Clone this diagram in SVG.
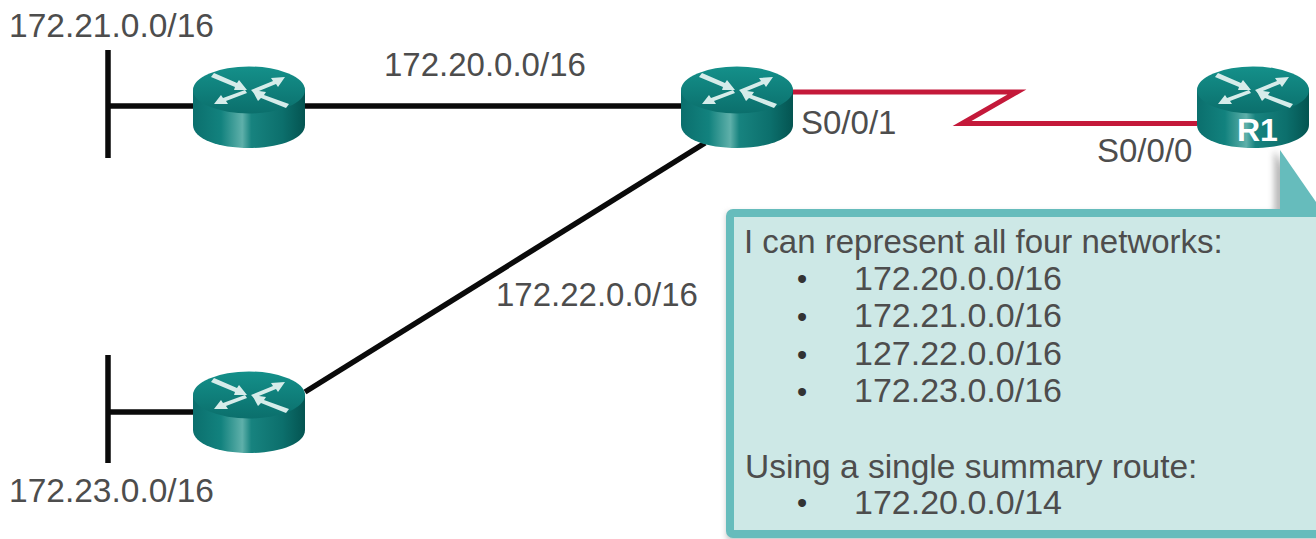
<svg xmlns="http://www.w3.org/2000/svg" width="1316" height="539" viewBox="0 0 1316 539">
<style>
text{font-family:"Liberation Sans",Arial,sans-serif;font-size:33px;fill:#4d4d4d}
.net{font-size:33.5px}
.li{font-size:34px}
.bul{font-size:29px;fill:#333}
.blk{stroke:#0a0a0a;stroke-width:5.5;fill:none}
.red{stroke:#c4193a;stroke-width:5;fill:none;stroke-miterlimit:12}
.lbl{font-weight:700;fill:#fff;font-size:32px}
</style>
<defs>
<linearGradient id="body" x1="0" x2="1" y1="0" y2="0">
<stop offset="0" stop-color="#0b6f6d"/><stop offset=".25" stop-color="#12827e"/><stop offset=".44" stop-color="#5fb0aa"/><stop offset=".52" stop-color="#17837f"/><stop offset=".8" stop-color="#0c6f6c"/><stop offset="1" stop-color="#045451"/>
</linearGradient>
<linearGradient id="top" x1="0" x2="0" y1="0" y2="1">
<stop offset="0" stop-color="#14908a"/><stop offset="1" stop-color="#0b6f6c"/>
</linearGradient>
<filter id="blur" x="-5%" y="-5%" width="110%" height="110%"><feGaussianBlur stdDeviation="3"/></filter>
<g id="router">
<path d="M-56 -15V20C-56 34 -30 43 0 43S56 34 56 20V-15Z" fill="url(#body)"/>
<ellipse cx="0" cy="-15" rx="56" ry="23.5" fill="url(#top)"/>
<g fill="#d6ecea">
<path d="M-38 -28L-35 -32L-12 -22L-10 -25L-2 -15L-15 -15L-14 -18Z"/>
<path d="M2 -15L24 -24L22 -27L36 -28L29 -18L27 -21L5 -12Z"/>
<path d="M-4 -15L-2 -12L-23 -4L-21 -1L-35 -1L-28 -10L-26 -7Z"/>
<path d="M37 3L40 -1L15 -10L17 -13L3 -15L9 -4L12 -7Z"/>
</g>
</g>
</defs>
<rect width="1316" height="539" fill="#fff"/>
<g id="connectors">
<path class="blk" d="M108 50V158M108 106H193M305 106H681"/>
<path class="blk" d="M108 355V463M108 412H193"/>
<path class="blk" d="M305 392L705 143"/>
<path class="red" d="M793 92H1017L962 123.500H1197"/>
</g>
<g id="router-a"><use href="#router" x="249" y="105"/></g>
<g id="router-b"><use href="#router" x="737" y="105"/></g>
<g id="router-c"><use href="#router" x="249" y="410"/></g>
<g id="router-r1"><use href="#router" x="1253" y="105"/><text class="lbl" x="1237" y="141">R1</text></g>
<g id="labels">
<text class="net" x="9" y="37">172.21.0.0/16</text>
<text x="384" y="76">172.20.0.0/16</text>
<text x="496" y="306">172.22.0.0/16</text>
<text class="net" x="9" y="502">172.23.0.0/16</text>
<text x="801" y="134">S0/0/1</text>
<text x="1097" y="162">S0/0/0</text>
</g>
<g id="callout">
<path d="M727 213H1274V150L1330 240V540H727Z" fill="#777" opacity=".5" filter="url(#blur)"/>
<rect x="730" y="213" width="600" height="321" rx="3" fill="#cde8e6" stroke="#66bcbc" stroke-width="8"/>
<path d="M1280 150L1316 202V209H1280Z" fill="#66bcbc"/>
<text x="744" y="253">I can represent all four networks:</text>
<text class="bul" x="797" y="289">•</text><text class="li" x="854" y="290">172.20.0.0/16</text>
<text class="bul" x="797" y="327">•</text><text class="li" x="854" y="327">172.21.0.0/16</text>
<text class="bul" x="797" y="365">•</text><text class="li" x="854" y="365">127.22.0.0/16</text>
<text class="bul" x="797" y="402">•</text><text class="li" x="854" y="402">172.23.0.0/16</text>
<text class="net" x="745" y="478">Using a single summary route:</text>
<text class="bul" x="797" y="513">•</text><text class="li" x="854" y="514">172.20.0.0/14</text>
</g>
</svg>
